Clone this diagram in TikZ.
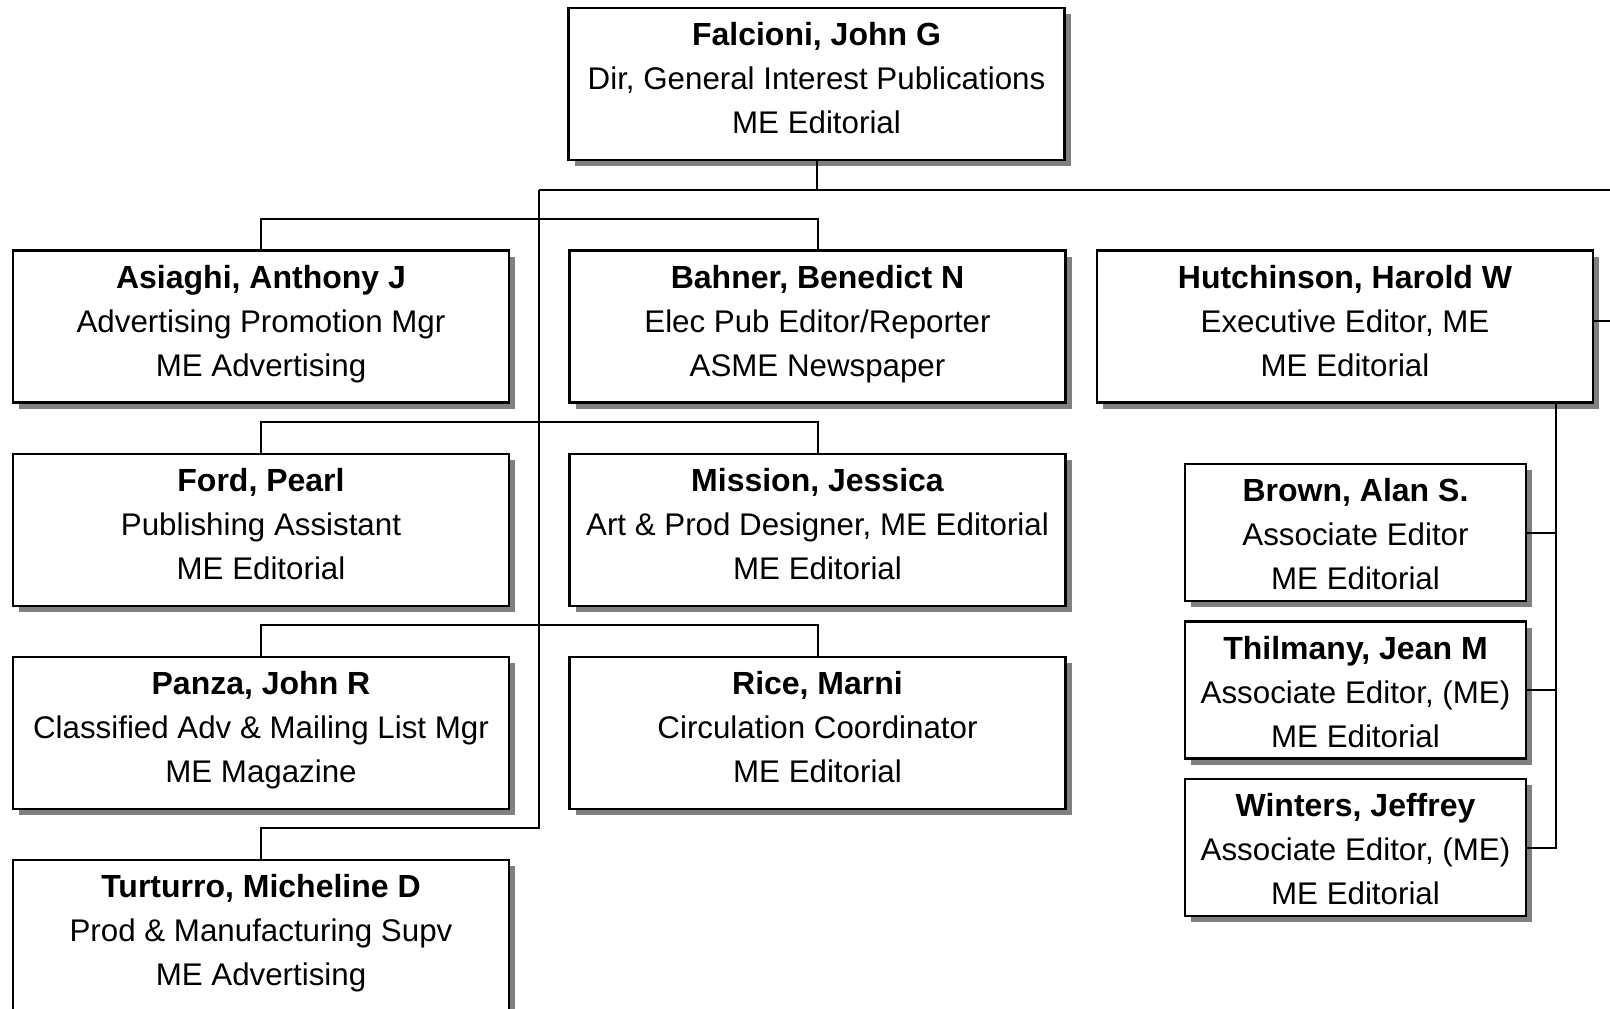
\documentclass[tikz,border=0pt]{standalone}
\usepackage{fontspec}
\setmainfont{Liberation Sans}
\usetikzlibrary{shadows}
\newcommand{\nm}[1]{{\fontsize{32}{44}\selectfont\bfseries\strut #1}}
\begin{document}
\begin{tikzpicture}[x=1pt,y=-1pt,
  box/.style={draw=black, line width=2.5pt, fill=white, minimum width=496pt, minimum height=152pt, inner sep=0pt,
    drop shadow={shadow xshift=6pt, shadow yshift=-6pt, fill=gray, opacity=1}},
  sbox/.style={box, minimum width=341pt, minimum height=137pt},
  txt/.style={align=center, font=\fontsize{31.3}{44}\selectfont, inner sep=0pt, anchor=north},
  link/.style={line width=2pt, draw=black}]
\useasboundingbox (0,0) rectangle (1610,1009);
\clip (0,0) rectangle (1610,1009);
\fill[white] (0,0) rectangle (1610,1009);

% boxes
\node[box] (fal) at (816.5,84) {};
\node[box] (asi) at (261,326.5) {};
\node[box] (bah) at (817.5,326.5) {};
\node[box] (hut) at (1345,326.5) {};
\node[box] (ford) at (261,530) {};
\node[box] (mis) at (817.5,530) {};
\node[box] (pan) at (261,733) {};
\node[box] (ric) at (817.5,733) {};
\node[box] (tur) at (261,936) {};
\node[sbox] (bro) at (1355.5,532.5) {};
\node[sbox] (thi) at (1355.5,690) {};
\node[sbox] (win) at (1355.5,847.5) {};

% texts
\node[txt] (falT) at ([yshift=-8pt]fal.north) {\nm{Falcioni, John G}\\Dir, General Interest Publications\\ME Editorial};
\node[txt] (asiT) at ([yshift=-8pt]asi.north) {\nm{Asiaghi, Anthony J}\\Advertising Promotion Mgr\\ME Advertising};
\node[txt] (bahT) at ([yshift=-8pt]bah.north) {\nm{Bahner, Benedict N}\\Elec Pub Editor/Reporter\\ASME Newspaper};
\node[txt] (hutT) at ([yshift=-8pt]hut.north) {\nm{Hutchinson, Harold W}\\Executive Editor, ME\\ME Editorial};
\node[txt] (fordT) at ([yshift=-8pt]ford.north) {\nm{Ford, Pearl}\\Publishing Assistant\\ME Editorial};
\node[txt] (misT) at ([yshift=-8pt]mis.north) {\nm{Mission, Jessica}\\Art \& Prod Designer, ME Editorial\\ME Editorial};
\node[txt] (panT) at ([yshift=-8pt]pan.north) {\nm{Panza, John R}\\Classified Adv \& Mailing List Mgr\\ME Magazine};
\node[txt] (ricT) at ([yshift=-8pt]ric.north) {\nm{Rice, Marni}\\Circulation Coordinator\\ME Editorial};
\node[txt] (turT) at ([yshift=-8pt]tur.north) {\nm{Turturro, Micheline D}\\Prod \& Manufacturing Supv\\ME Advertising};
\node[txt] (broT) at ([yshift=-8pt]bro.north) {\nm{Brown, Alan S.}\\Associate Editor\\ME Editorial};
\node[txt] (thiT) at ([yshift=-8pt]thi.north) {\nm{Thilmany, Jean M}\\Associate Editor, (ME)\\ME Editorial};
\node[txt] (winT) at ([yshift=-8pt]win.north) {\nm{Winters, Jeffrey}\\Associate Editor, (ME)\\ME Editorial};

% connectors
\coordinate (busL) at (539,190);
\coordinate (busR) at (1620,190);
\coordinate (trunkEnd) at (539,828);
\coordinate (r1) at (539,219);
\coordinate (r2) at (539,422);
\coordinate (r3) at (539,625);
\coordinate (hutR) at (1620,321);
\coordinate (hv) at (1556,848);

\draw[link] (fal.south) -- (fal.south |- busL);
\draw[link] (busL) -- (busR);
\draw[link] (busL) -- (trunkEnd) -- (trunkEnd -| tur.north) -- (tur.north);
\draw[link] (asi.north) -- (asi.north |- r1) -- (bah.north |- r1) -- (bah.north);
\draw[link] (ford.north) -- (ford.north |- r2) -- (mis.north |- r2) -- (mis.north);
\draw[link] (pan.north) -- (pan.north |- r3) -- (ric.north |- r3) -- (ric.north);
\draw[link] (hut.east |- hutR) -- (hutR);
\draw[link] (hut.south -| hv) -- (hv |- win.east) -- (win.east);
\draw[link] (bro.east) -- (bro.east -| hv);
\draw[link] (thi.east) -- (thi.east -| hv);
\end{tikzpicture}
\end{document}
